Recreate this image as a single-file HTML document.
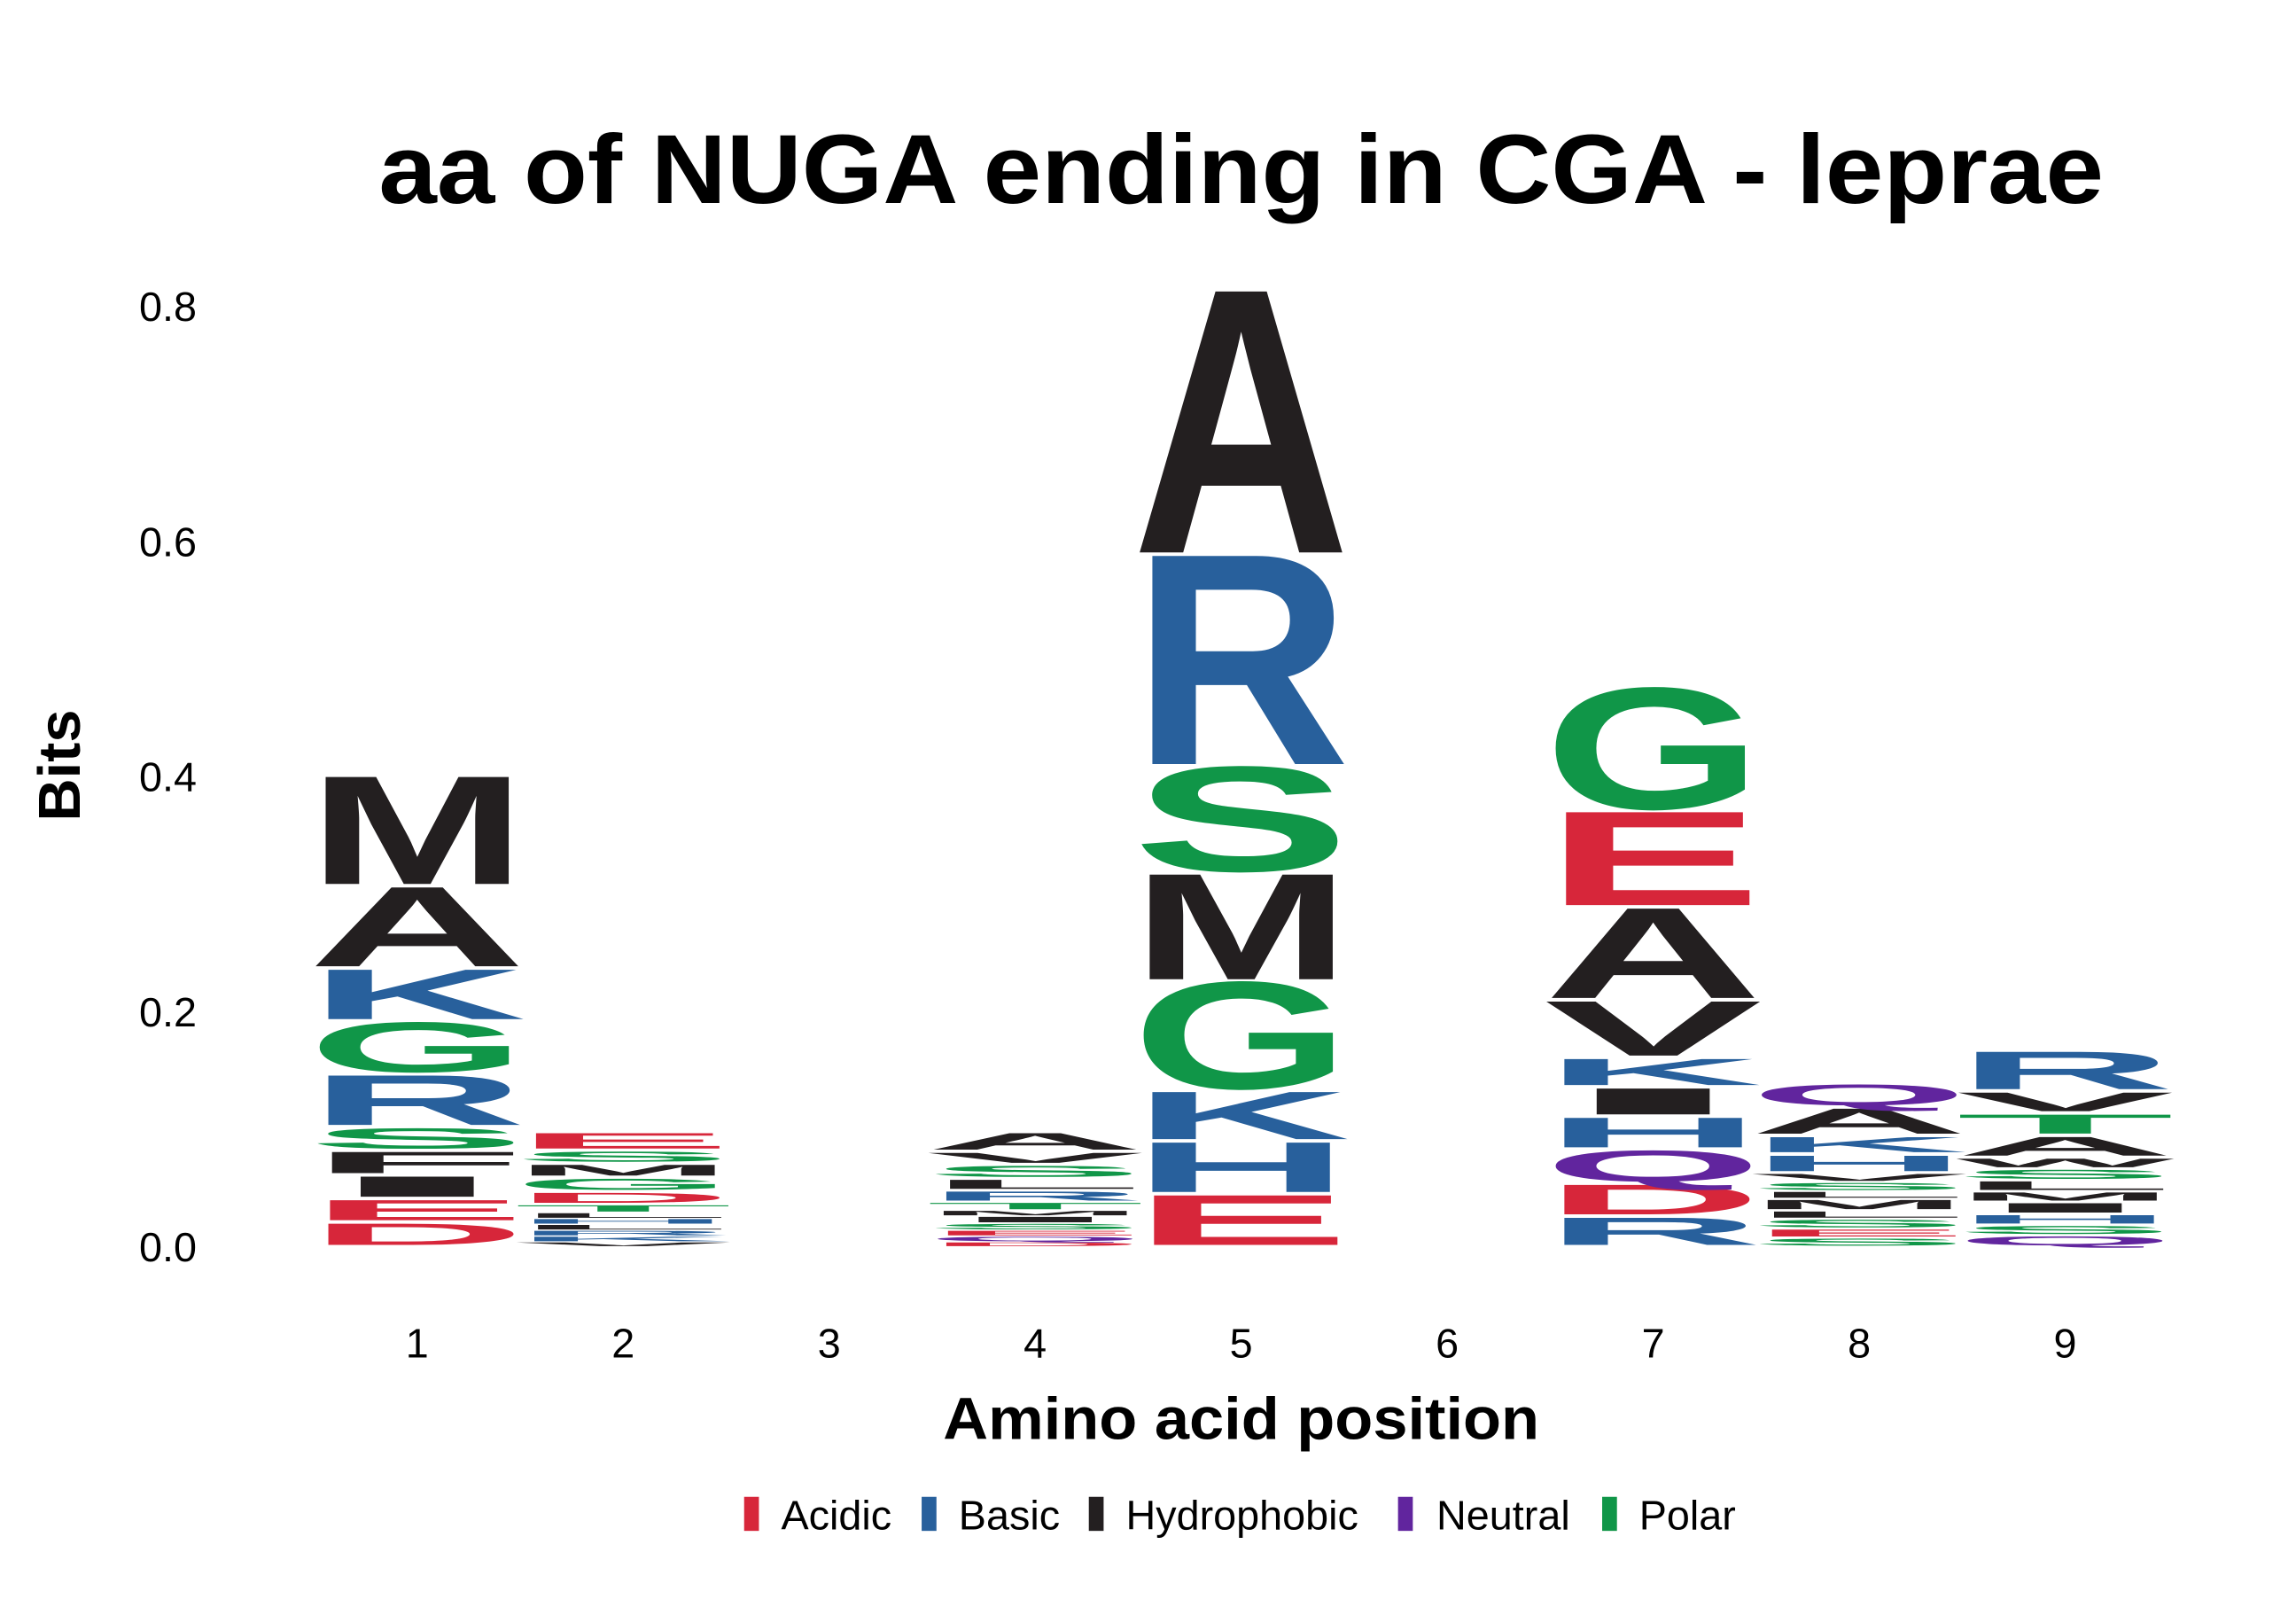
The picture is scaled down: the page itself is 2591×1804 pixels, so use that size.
<!DOCTYPE html>
<html><head><meta charset="utf-8"><style>
html,body{margin:0;padding:0;background:#fff;}
svg{display:block;font-family:"Liberation Sans",Arial,sans-serif;}
</style></head><body>
<svg id="chart" width="2591" height="1804" viewBox="0 0 1552 1080" preserveAspectRatio="none" xmlns="http://www.w3.org/2000/svg">
<rect width="1552" height="1080" fill="#fff"/>
<text x="839" y="137" font-size="66" font-weight="bold" text-anchor="middle" textLength="1166" lengthAdjust="spacingAndGlyphs">aa of NUGA ending in CGA - leprae</text>
<g id="yticks" font-size="28"></g>
<g id="xticks" font-size="28"></g>
<g id="logo"></g>
<text x="839" y="972" font-size="40" font-weight="bold" text-anchor="middle" textLength="403" lengthAdjust="spacingAndGlyphs">Amino acid position</text>
<text transform="translate(54,517) rotate(-90)" font-size="40" font-weight="bold" text-anchor="middle">Bits</text>
<g font-size="28">
<g><rect x="503" y="1011" width="10" height="23" fill="#D7263A"/><text x="528" y="1033">Acidic</text></g>
<g><rect x="623" y="1011" width="10" height="23" fill="#28609C"/><text x="648" y="1033">Basic</text></g>
<g><rect x="736" y="1011" width="10" height="23" fill="#231F20"/><text x="761" y="1033">Hydrophobic</text></g>
<g><rect x="945" y="1011" width="10" height="23" fill="#61259E"/><text x="971" y="1033">Neutral</text></g>
<g><rect x="1083" y="1011" width="10" height="23" fill="#109648"/><text x="1108" y="1033">Polar</text></g>
</g>
</svg>
<script>
const positions = [1,2,3,4,5,6,7,8,9];
const yTicks = [0.0,0.2,0.4,0.6,0.8];
const yTickLabels = ["0.0","0.2","0.4","0.6","0.8"];
// stacks bottom -> top: letters and bits
const pos1Letters = ["D","E","I","F","S","R","G","K","A","M"];
const pos1Bits = [0.021,0.020,0.020,0.021,0.020,0.045,0.045,0.045,0.070,0.094];
const pos2Letters = ["V","K","R","L","H","L","T","D","G","M","S","E"];
const pos2Bits = [0.004,0.005,0.005,0.005,0.005,0.005,0.007,0.011,0.012,0.012,0.011,0.016];
const pos3Letters = [];
const pos3Bits = [];
const pos4Letters = ["D","Q","E","S","I","M","T","R","L","S","V","A"];
const pos4Bits = [0.004,0.005,0.005,0.006,0.006,0.005,0.007,0.010,0.010,0.012,0.011,0.017];
const pos5Letters = ["E","H","K","G","M","S","R","A"];
const pos5Bits = [0.045,0.045,0.043,0.093,0.092,0.091,0.180,0.225];
const pos6Letters = [];
const pos6Bits = [];
const pos7Letters = ["R","D","Q","H","I","K","V","A","E","G"];
const pos7Bits = [0.026,0.028,0.029,0.028,0.025,0.025,0.049,0.079,0.082,0.105];
const pos8Letters = ["S","E","S","L","M","L","S","V","H","K","A","Q"];
const pos8Bits = [0.0077,0.0077,0.0084,0.0069,0.0102,0.0064,0.0077,0.0077,0.0161,0.0158,0.0242,0.0204];
const pos9Letters = ["Q","S","H","I","M","L","S","W","A","T","V","R"];
const pos9Bits = [0.0098,0.0087,0.0093,0.0103,0.009,0.0095,0.0098,0.0095,0.0188,0.019,0.0188,0.0347];
const stackLetters = [pos1Letters,pos2Letters,pos3Letters,pos4Letters,pos5Letters,pos6Letters,pos7Letters,pos8Letters,pos9Letters];
const stackBits = [pos1Bits,pos2Bits,pos3Bits,pos4Bits,pos5Bits,pos6Bits,pos7Bits,pos8Bits,pos9Bits];

const NS = "http://www.w3.org/2000/svg";
const Y0 = 842, PXPERBIT = 794;
function yScale(v){ return Y0 - v*PXPERBIT; }
function xScale(p){ return 282 + (p-1)*139.25; }
const LW = 134;
const groupOf = {D:"acidic",E:"acidic",R:"basic",K:"basic",H:"basic",A:"hydrophobic",V:"hydrophobic",L:"hydrophobic",I:"hydrophobic",P:"hydrophobic",W:"hydrophobic",F:"hydrophobic",M:"hydrophobic",Q:"neutral",N:"neutral",S:"polar",G:"polar",T:"polar",Y:"polar",C:"polar"};
const colorOf = {acidic:"#D7263A",basic:"#28609C",hydrophobic:"#231F20",neutral:"#61259E",polar:"#109648"};

const yt = document.getElementById("yticks");
yTicks.forEach((v,i)=>{
  const t = document.createElementNS(NS,"text");
  
  
  t.setAttribute("x",133); t.setAttribute("y",yScale(v)+10);
  t.setAttribute("text-anchor","end");
  t.textContent = yTickLabels[i];
  yt.appendChild(t);
});
const xt = document.getElementById("xticks");
positions.forEach(p=>{
  const t = document.createElementNS(NS,"text");
  
  
  t.setAttribute("x",xScale(p)); t.setAttribute("y",917);
  t.setAttribute("text-anchor","middle");
  t.textContent = String(p);
  xt.appendChild(t);
});
const logo = document.getElementById("logo");
const CAP = 68.8;
const OVER = 1.1;
positions.forEach((p,i)=>{
  let acc = 0;
  const letters = stackLetters[i], bits = stackBits[i];
  letters.forEach((L,j)=>{
    const b = bits[j];
    const yb = yScale(acc), yt2 = yScale(acc+b);
    acc += b;
    const gap = Math.min(1.2,(yb-yt2)*0.12);
    const h = (yb-yt2)-gap*2;
    if(h<=0) return;
    const t = document.createElementNS(NS,"text");
    
    
    t.setAttribute("x",0); t.setAttribute("y",0);
    t.setAttribute("font-size",100);
    t.setAttribute("font-weight","bold");
    t.setAttribute("fill",colorOf[groupOf[L]]);
    t.setAttribute("textLength",LW*OVER);
    t.setAttribute("lengthAdjust","spacingAndGlyphs");
    t.setAttribute("transform","translate("+(xScale(p)-LW*OVER/2)+","+(yb-gap)+") scale(1,"+(h/CAP)+")");
    t.textContent = L;
    logo.appendChild(t);
  });
});
</script>
</body></html>
